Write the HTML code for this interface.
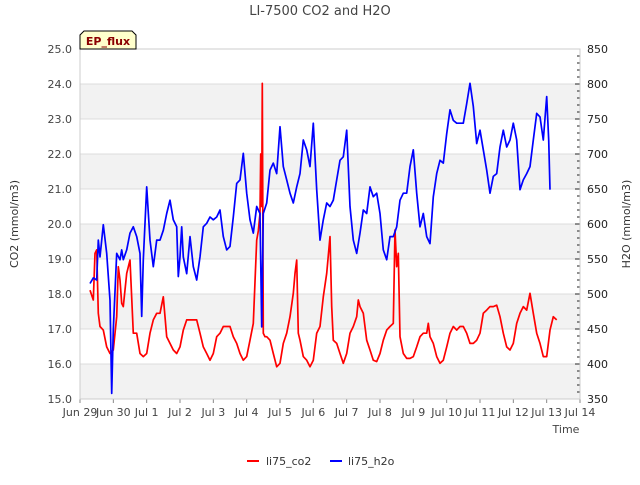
<!DOCTYPE html>
<html><head><meta charset="utf-8"><style>
body{margin:0;background:#fff;width:640px;height:480px;overflow:hidden}
svg{font-family:"DejaVu Sans","Liberation Sans",sans-serif}
</style></head><body>
<svg id="chart" width="640" height="480">
<text x="320" y="15" text-anchor="middle" font-size="13" fill="#444">LI-7500 CO2 and H2O</text>
<g id="grid"></g>
<g id="series"></g>
<g id="axes"></g>
<g>
<path d="M80,49 L80,35 L84,31 L132,31 L136,35 L136,49 Z" fill="#ffffcc" stroke="#000" stroke-width="1"/>
<text x="108" y="45" text-anchor="middle" font-size="11" font-weight="bold" fill="#8b0000">EP_flux</text>
</g>
<text x="18" y="224" transform="rotate(-90 18 224)" text-anchor="middle" font-size="11" fill="#333">CO2 (mmol/m3)</text>
<text x="630" y="224" transform="rotate(-90 630 224)" text-anchor="middle" font-size="11" fill="#333">H2O (mmol/m3)</text>
<text x="566" y="433" text-anchor="middle" font-size="11" fill="#444">Time</text>
<g><line x1="247" y1="461" x2="259" y2="461" stroke="#f00" stroke-width="2"/><text x="266" y="465" font-size="11" fill="#333">li75_co2</text></g>
<g><line x1="330" y1="461" x2="342" y2="461" stroke="#00f" stroke-width="2"/><text x="348" y="465" font-size="11" fill="#333">li75_h2o</text></g>
</svg>
<script>
const xLabels=["Jun 29","Jun 30","Jul 1","Jul 2","Jul 3","Jul 4","Jul 5","Jul 6","Jul 7","Jul 8","Jul 9","Jul 10","Jul 11","Jul 12","Jul 13","Jul 14"];
const leftTicks=[15,16,17,18,19,20,21,22,23,24,25];
const rightTicks=[350,400,450,500,550,600,650,700,750,800,850];
const h2oT=[0.30,0.40,0.50,0.55,0.60,0.70,0.80,0.90,0.95,1.00,1.10,1.20,1.25,1.30,1.40,1.50,1.60,1.70,1.80,1.85,1.90,2.00,2.10,2.20,2.30,2.40,2.50,2.60,2.70,2.80,2.90,2.95,3.00,3.05,3.10,3.20,3.30,3.40,3.50,3.60,3.70,3.80,3.90,4.00,4.10,4.20,4.30,4.40,4.50,4.60,4.70,4.80,4.90,5.00,5.10,5.20,5.30,5.40,5.45,5.50,5.60,5.70,5.80,5.90,6.00,6.10,6.20,6.30,6.40,6.50,6.60,6.70,6.80,6.90,7.00,7.10,7.20,7.30,7.40,7.50,7.60,7.70,7.80,7.90,8.00,8.10,8.20,8.30,8.40,8.50,8.60,8.70,8.80,8.90,9.00,9.10,9.20,9.30,9.40,9.50,9.60,9.70,9.80,9.90,10.00,10.10,10.20,10.30,10.40,10.50,10.60,10.70,10.80,10.90,11.00,11.10,11.20,11.30,11.40,11.50,11.60,11.70,11.80,11.90,12.00,12.10,12.20,12.30,12.40,12.50,12.60,12.70,12.80,12.90,13.00,13.10,13.20,13.30,13.40,13.50,13.60,13.70,13.80,13.90,14.00,14.06,14.10];
const h2oV=[515,523,520,577,553,599,558,491,358,449,558,549,563,549,563,587,596,582,558,468,549,653,577,539,577,577,591,615,634,606,596,525,553,596,553,529,582,539,520,553,596,601,610,606,610,620,582,563,568,610,658,663,701,644,606,587,625,615,453,615,630,677,687,672,739,682,663,644,630,653,672,720,706,682,744,649,577,606,630,625,634,663,691,696,734,625,577,558,587,620,615,653,639,644,615,563,549,582,582,596,634,644,644,682,706,644,596,615,582,572,639,672,691,687,729,763,748,744,744,744,772,801,768,715,734,706,677,644,668,672,710,734,710,720,744,720,649,663,672,682,720,758,753,720,782,720,649,606,615];
const co2T=[0.30,0.40,0.45,0.50,0.55,0.60,0.70,0.80,0.90,1.00,1.10,1.15,1.20,1.25,1.30,1.40,1.50,1.60,1.70,1.80,1.90,2.00,2.10,2.20,2.30,2.40,2.50,2.60,2.70,2.80,2.90,3.00,3.10,3.20,3.30,3.40,3.50,3.60,3.70,3.80,3.90,4.00,4.10,4.20,4.30,4.40,4.50,4.60,4.70,4.80,4.90,5.00,5.10,5.20,5.30,5.35,5.40,5.42,5.45,5.47,5.50,5.55,5.60,5.70,5.80,5.90,6.00,6.10,6.20,6.30,6.40,6.45,6.50,6.55,6.60,6.70,6.80,6.90,7.00,7.10,7.20,7.30,7.40,7.50,7.55,7.60,7.70,7.80,7.90,8.00,8.10,8.20,8.30,8.35,8.40,8.50,8.60,8.70,8.80,8.90,9.00,9.10,9.20,9.30,9.40,9.45,9.50,9.55,9.60,9.70,9.80,9.90,10.00,10.10,10.20,10.30,10.40,10.45,10.50,10.60,10.70,10.80,10.90,11.00,11.10,11.20,11.30,11.40,11.50,11.60,11.70,11.80,11.90,12.00,12.10,12.20,12.30,12.40,12.50,12.60,12.70,12.80,12.90,13.00,13.10,13.20,13.30,13.40,13.50,13.60,13.70,13.80,13.90,14.00,14.10,14.20,14.30];
const co2V=[18.11,17.83,19.16,19.26,17.45,17.07,16.97,16.49,16.30,16.40,17.35,18.78,18.40,17.73,17.64,18.59,18.97,16.88,16.88,16.30,16.21,16.30,16.88,17.26,17.45,17.45,17.92,16.78,16.59,16.40,16.30,16.49,16.97,17.26,17.26,17.26,17.26,16.88,16.49,16.30,16.11,16.30,16.78,16.88,17.07,17.07,17.07,16.78,16.59,16.30,16.11,16.21,16.68,17.16,19.54,19.8,20.30,22.0,20.5,24.02,16.88,16.78,16.78,16.68,16.30,15.92,16.02,16.59,16.88,17.35,18.02,18.59,18.97,16.88,16.68,16.21,16.11,15.92,16.11,16.88,17.07,17.92,18.59,19.64,17.64,16.68,16.59,16.30,16.02,16.30,16.88,17.07,17.35,17.83,17.64,17.45,16.68,16.40,16.11,16.07,16.30,16.68,16.97,17.07,17.16,19.83,18.78,19.16,16.78,16.30,16.16,16.16,16.21,16.49,16.78,16.88,16.88,17.16,16.78,16.59,16.21,16.02,16.11,16.49,16.88,17.07,16.97,17.07,17.07,16.88,16.59,16.59,16.68,16.88,17.45,17.54,17.64,17.64,17.68,17.35,16.88,16.49,16.40,16.59,17.16,17.45,17.64,17.54,18.02,17.45,16.88,16.59,16.21,16.21,16.97,17.35,17.26];

const NS="http://www.w3.org/2000/svg";
const L=80,R=580,T=49,B=399;
function xScale(d){return L+(R-L)*d/15;}
function yL(v){return B-(v-15)*(B-T)/10;}
function yR(v){return B-(v-350)*(B-T)/500;}
function mk(tag,attrs,parent){const e=document.createElementNS(NS,tag);for(const k in attrs)e.setAttribute(k,attrs[k]);parent.appendChild(e);return e;}
const grid=document.getElementById('grid'),axes=document.getElementById('axes'),series=document.getElementById('series');
const bg=mk('rect',{x:L,y:T,width:R-L,height:B-T,fill:'#fff'},grid);


for(let i=0;i<leftTicks.length-1;i+=2){
 const b=mk('rect',{x:L,y:yL(leftTicks[i+1]),width:R-L,height:yL(leftTicks[i])-yL(leftTicks[i+1]),fill:'#f2f2f2'},grid);
 
 
}
leftTicks.forEach((v,i)=>{
 const y=yL(v);
 const g=mk('line',{x1:L,x2:R,y1:y,y2:y,stroke:'#dcdcdc','stroke-width':1},grid);
 
 
 const t=mk('text',{x:L-8,y:y+4,'text-anchor':'end','font-size':11,fill:'#444'},axes);
 t.textContent=v.toFixed(1);
 
 
});
rightTicks.forEach(v=>{
 const y=yR(v);
 const t=mk('text',{x:R+7,y:y+4,'font-size':11,fill:'#222'},axes);
 t.textContent=v;
 
 
});
for(let v=350;v<=850;v+=10){
 const y=yR(v);const w=(v%50===0)?5:3;
 mk('line',{x1:R-w,x2:R,y1:y,y2:y,stroke:'#222','stroke-width':1},axes);
}
xLabels.forEach((s,i)=>{
 const x=xScale(i);
 mk('line',{x1:x,x2:x,y1:B,y2:B+4,stroke:'#888','stroke-width':1},axes);
 const t=mk('text',{x:x,y:B+17,'text-anchor':'middle','font-size':11,fill:'#444'},axes);
 t.textContent=s;
 
 
});
const fr=mk('rect',{x:L,y:T,width:R-L,height:B-T,fill:'none',stroke:'#ccc','stroke-width':1},axes);


function line(ts,vs,ys,color,name){
 const d=ts.map((t,i)=>(i?'L':'M')+xScale(t).toFixed(1)+','+ys(vs[i]).toFixed(1)).join(' ');
 const p=mk('path',{d:d,fill:'none',stroke:color,'stroke-width':1.7,'stroke-linejoin':'round'},series);
 
 
}
line(co2T,co2V,yL,'#ff0000','co2-line');
line(h2oT,h2oV,yR,'#0000ff','h2o-line');
</script>
</body></html>
